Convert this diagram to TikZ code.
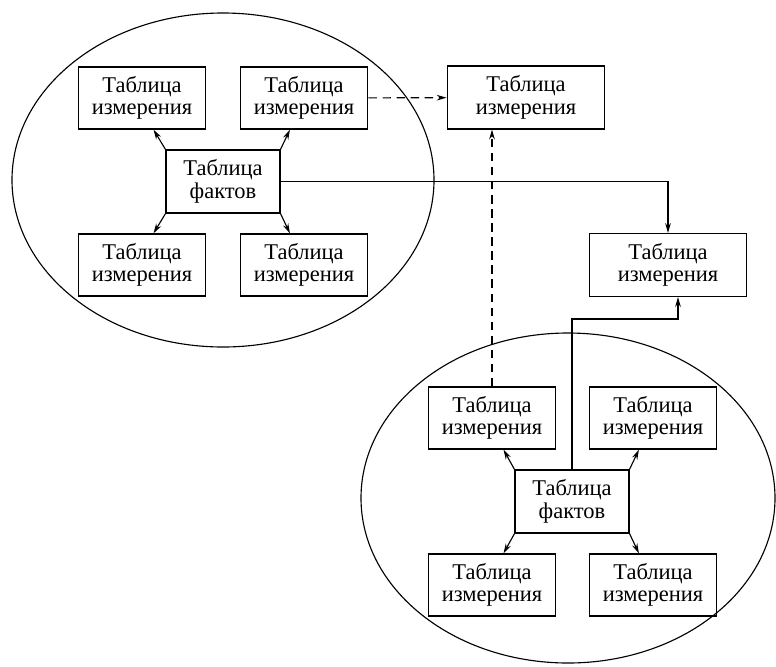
\documentclass[tikz,border=0pt]{standalone}
\usepackage{fontspec}
\setmainfont{Liberation Serif}
\usetikzlibrary{arrows.meta}

\begin{document}
\begin{tikzpicture}[x=0.025cm, y=-0.025cm, >={Stealth[length=7pt, width=4pt]},
		dimtab/.style={draw, line width=1pt, align=center, minimum width=90.7pt, minimum height=44pt, inner sep=1pt, font=\fontsize{16pt}{16pt}\selectfont},
		facttab/.style={dimtab, minimum width=80.8pt, minimum height=44.6pt}]
		\useasboundingbox (0,0) rectangle (776,666);
		% left star
		\draw[thick] (223,180) ellipse [x radius=211, y radius=167];
		\node[facttab] (lf) at (223,181.5){Таблица\\фактов};
		\node[dimtab] (ld1) at (142,98){Таблица\\измерения};
		\node[dimtab] (ld2) at (304,98){Таблица\\измерения};
		\node[dimtab] (ld3) at (142,265){Таблица\\измерения};
		\node[dimtab] (ld4) at (304,265){Таблица\\измерения};
		\draw[thick, ->] (lf.north west) -- (ld1.-70);
		\draw[thick, ->] (lf.north east) -- (ld2.-114);
		\draw[thick, ->] (lf.south west) -- (ld3.70);
		\draw[thick, ->] (lf.south east) -- (ld4.114);
		% shared dimensions
		\node[dimtab, minimum width=112pt, minimum height=44.6pt] (rd1) at (526,97.5){Таблица\\измерения};
		\node[dimtab, minimum width=112pt, minimum height=44.6pt] (rd2) at (668,265){Таблица\\измерения};
		% right star
		\draw[thick] (568,498) ellipse [x radius=207, y radius=165];
		\node[facttab] (bf) at (572,501.5){Таблица\\фактов};
		\node[dimtab] (bd1) at (492,418){Таблица\\измерения};
		\node[dimtab] (bd2) at (653,418){Таблица\\измерения};
		\node[dimtab] (bd3) at (492,585){Таблица\\измерения};
		\node[dimtab] (bd4) at (653,585){Таблица\\измерения};
		\draw[thick, ->] (bf.north west) -- (bd1.-70);
		\draw[thick, ->] (bf.north east) -- (bd2.-114);
		\draw[thick, ->] (bf.south west) -- (bd3.70);
		\draw[thick, ->] (bf.south east) -- (bd4.114);
		% links between the stars
		\draw[thick, dash pattern=on 6pt off 4pt, ->] (ld2) -- (rd1);
		\draw[thick, dash pattern=on 6pt off 4pt, ->] (bd1.north) -- (bd1.north |- rd1.south);
		\draw[thick, ->] (lf.east) -| (rd2.north);
		\coordinate (bend) at (678,319);
		\draw[thick, ->] (bf.north) |- (bend) -- (bend |- rd2.south);
		\end{tikzpicture}
\end{document}
